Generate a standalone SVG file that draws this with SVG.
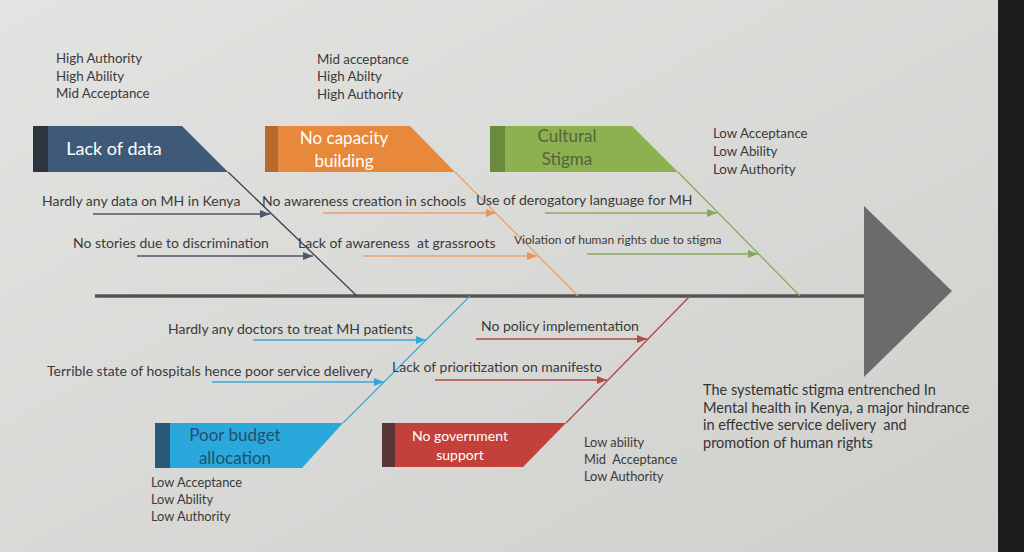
<svg xmlns="http://www.w3.org/2000/svg" width="1024" height="552" viewBox="0 0 1024 552">
<style>
text{font-family:Lato,"Open Sans","Liberation Sans",sans-serif;fill:#3a3a3a;white-space:pre}
.lbl{font-size:14px}
.top{font-size:13.3px}
.sm{font-size:12.8px}
.box{font-size:17px;text-anchor:middle}
.eff{font-size:14.5px;fill:#333}
.bone{fill:none;stroke-width:1.3}
.arr{fill:none;stroke-width:1.3}
</style>
<defs>
<linearGradient id="bg" x1="0" y1="0" x2="1" y2="1">
<stop offset="0" stop-color="#e3e3e1"/>
<stop offset="1" stop-color="#cfcfcc"/>
</linearGradient>
<marker id="mK" viewBox="0 0 10 8" refX="10" refY="4" markerWidth="10" markerHeight="8" markerUnits="userSpaceOnUse" orient="auto"><path d="M0,0L10,4L0,8z" fill="#4a5868"/></marker>
<marker id="mO" viewBox="0 0 10 8" refX="10" refY="4" markerWidth="10" markerHeight="8" markerUnits="userSpaceOnUse" orient="auto"><path d="M0,0L10,4L0,8z" fill="#e8955a"/></marker>
<marker id="mG" viewBox="0 0 10 8" refX="10" refY="4" markerWidth="10" markerHeight="8" markerUnits="userSpaceOnUse" orient="auto"><path d="M0,0L10,4L0,8z" fill="#86a85a"/></marker>
<marker id="mB" viewBox="0 0 10 8" refX="10" refY="4" markerWidth="10" markerHeight="8" markerUnits="userSpaceOnUse" orient="auto"><path d="M0,0L10,4L0,8z" fill="#36a6d6"/></marker>
<marker id="mR" viewBox="0 0 10 8" refX="10" refY="4" markerWidth="10" markerHeight="8" markerUnits="userSpaceOnUse" orient="auto"><path d="M0,0L10,4L0,8z" fill="#b24a48"/></marker>
</defs>
<rect width="1024" height="552" fill="url(#bg)"/>
<rect x="998" y="0" width="26" height="552" fill="#1c1c1c"/>

<g id="connectors">
<line x1="95" y1="296" x2="866" y2="296" stroke="#555" stroke-width="3.5"/>
<line class="bone" x1="228" y1="172" x2="357" y2="296" stroke="#3a4450"/>
<line class="bone" x1="455" y1="172" x2="578" y2="296" stroke="#e8a070"/>
<line class="bone" x1="678" y1="172" x2="800" y2="296" stroke="#8aaa60"/>
<line class="bone" x1="343" y1="423" x2="470" y2="296" stroke="#3aa8d8"/>
<line class="bone" x1="566" y1="423" x2="690" y2="296" stroke="#b04848"/>
<line class="arr" x1="93" y1="214" x2="270" y2="214" stroke="#4a5868" marker-end="url(#mK)"/>
<line class="arr" x1="137" y1="256" x2="313" y2="256" stroke="#4a5868" marker-end="url(#mK)"/>
<line class="arr" x1="323" y1="213" x2="496" y2="213" stroke="#e8a070" marker-end="url(#mO)"/>
<line class="arr" x1="363" y1="256" x2="537" y2="256" stroke="#e8a070" marker-end="url(#mO)"/>
<line class="arr" x1="545" y1="213" x2="717" y2="213" stroke="#8aaa60" marker-end="url(#mG)"/>
<line class="arr" x1="587" y1="254" x2="758" y2="254" stroke="#8aaa60" marker-end="url(#mG)"/>
<line class="arr" x1="253" y1="340" x2="426" y2="340" stroke="#3aa8d8" marker-end="url(#mB)"/>
<line class="arr" x1="212" y1="382" x2="384" y2="382" stroke="#3aa8d8" marker-end="url(#mB)"/>
<line class="arr" x1="476" y1="339" x2="647" y2="339" stroke="#b04848" marker-end="url(#mR)"/>
<line class="arr" x1="435" y1="380" x2="607" y2="380" stroke="#b04848" marker-end="url(#mR)"/>
</g>

<g id="effect">
<polygon points="864,206 952,291 864,377" fill="#6b6b6b"/>
<text class="eff" x="703" y="395">The systematic stigma entrenched In</text>
<text class="eff" x="703" y="413">Mental health in Kenya, a major hindrance</text>
<text class="eff" x="703" y="430">in effective service delivery  and</text>
<text class="eff" x="703" y="448">promotion of human rights</text>
</g>

<g id="lack-of-data">
<polygon points="33,126 182,126 228,172 33,172" fill="#3f5a78"/>
<rect x="33" y="126" width="15" height="46" fill="#2c3440"/>
<text class="box" x="114" y="155" style="fill:#fff;font-size:18px">Lack of data</text>
<text class="top" x="56" y="63">High Authority</text>
<text class="top" x="56" y="81">High Ability</text>
<text class="top" x="56" y="98">Mid Acceptance</text>
<text class="lbl" x="42" y="206">Hardly any data on MH in Kenya</text>
<text class="lbl" x="73" y="248">No stories due to discrimination</text>
</g>

<g id="no-capacity-building">
<polygon points="265,126 410,126 455,172 265,172" fill="#e8883a"/>
<rect x="265" y="126" width="13" height="46" fill="#b86a2c"/>
<text class="box" x="344" y="144" style="fill:#fff">No capacity</text>
<text class="box" x="344" y="167" style="fill:#fff">building</text>
<text class="top" x="317" y="64">Mid acceptance</text>
<text class="top" x="317" y="81">High Abilty</text>
<text class="top" x="317" y="99">High Authority</text>
<text class="lbl" x="262" y="206">No awareness creation in schools</text>
<text class="lbl" x="298" y="248">Lack of awareness  at grassroots</text>
</g>

<g id="cultural-stigma">
<polygon points="490,126 632,126 678,172 490,172" fill="#8db050"/>
<rect x="490" y="126" width="15" height="46" fill="#6a8a3c"/>
<text class="box" x="567" y="142" style="fill:#56633f">Cultural</text>
<text class="box" x="567" y="165" style="fill:#56633f">Stigma</text>
<text class="top" x="713" y="138">Low Acceptance</text>
<text class="top" x="713" y="156">Low Ability</text>
<text class="top" x="713" y="174">Low Authority</text>
<text class="lbl" x="476" y="205">Use of derogatory language for MH</text>
<text class="lbl" x="514" y="244" style="font-size:12px">Violation of human rights due to stigma</text>
</g>

<g id="poor-budget-allocation">
<polygon points="155,423 343,423 302,468 155,468" fill="#2aa8dc"/>
<rect x="155" y="423" width="15" height="45" fill="#2a5a78"/>
<text class="box" x="235" y="441" style="fill:#22506e">Poor budget</text>
<text class="box" x="235" y="464" style="fill:#22506e">allocation</text>
<text class="sm" x="151" y="487">Low Acceptance</text>
<text class="sm" x="151" y="504">Low Ability</text>
<text class="sm" x="151" y="521">Low Authority</text>
<text class="lbl" x="168" y="334">Hardly any doctors to treat MH patients</text>
<text class="lbl" x="47" y="376">Terrible state of hospitals hence poor service delivery</text>
</g>

<g id="no-government-support">
<polygon points="382,423 566,423 523,467 382,467" fill="#c4413b"/>
<rect x="382" y="423" width="13" height="44" fill="#5a3434"/>
<text class="box" x="460" y="441" style="fill:#fff;font-size:14px">No government</text>
<text class="box" x="460" y="460" style="fill:#fff;font-size:14px">support</text>
<text class="sm" x="584" y="447">Low ability</text>
<text class="sm" x="584" y="464">Mid  Acceptance</text>
<text class="sm" x="584" y="481">Low Authority</text>
<text class="lbl" x="481" y="331">No policy implementation</text>
<text class="lbl" x="392" y="372">Lack of prioritization on manifesto</text>
</g>
</svg>
